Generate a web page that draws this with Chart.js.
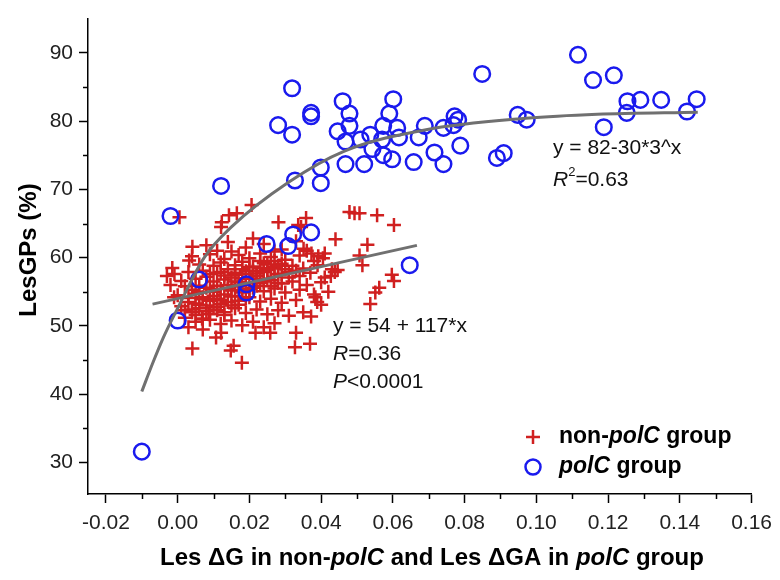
<!DOCTYPE html>
<html><head><meta charset="utf-8">
<script src="https://cdn.jsdelivr.net/npm/chart.js@4.4.0/dist/chart.umd.min.js"></script>
<style>html,body{margin:0;padding:0;background:#fff;}#wrap{width:780px;height:580px;}</style>
</head><body><div id="wrap"><canvas id="c" width="780" height="580"></canvas></div>
<script>
// ---- data ----
const xTicks = [-0.02, 0, 0.02, 0.04, 0.06, 0.08, 0.10, 0.12, 0.14, 0.16];
const xMinorTicks = [-0.01, 0.01, 0.03, 0.05, 0.07, 0.09, 0.11, 0.13, 0.15];
const yTicks = [30, 40, 50, 60, 70, 80, 90];
const yMinorTicks = [35, 45, 55, 65, 75, 85];

// non-polC group (Les ΔG, LesGPs %)
const nonPolC = [
  [0.0206,67.7],[0.0165,66.5],[0.0143,66.2],[0.0123,65.2],[0.0121,64.5],[0.0005,65.9],[0.0281,65.2],
  [0.0358,65.8],[0.0336,64.8],[0.0344,64.5],[0.0479,66.7],[0.0493,66.5],[0.0507,66.5],[0.0556,66.2],
  [0.0603,64.8],[0.0440,62.7],[0.0529,61.9],[0.0041,61.6],[-0.0015,58.5],[-0.0009,57.6],[0.0032,59.6],
  [0.0515,58.9],[0.0438,57.9],[0.0446,58.2],[0.0427,57.3],[0.0597,57.5],[0.0603,56.6],[0.0562,55.6],
  [0.0551,54.9],[0.0537,53.2],[0.0384,54.2],[0.0389,53.5],[0.0372,51.4],[0.0041,46.7],[0.0179,44.6],
  [0.0327,46.9],[0.0369,47.4],[0.0148,46.4],[0.0156,47.1],[0.0107,48.3],[0.0121,49.0],[0.0217,49.0],
  [0.0258,49.0],[0.0330,49.0],[0.0068,51.1],[0.0087,51.7],[0.0507,60.3],[0.0351,61.3],[0.0373,60.6],
  [0.0392,60.2],[0.0405,59.9],
  [0.008,61.8],[0.014,62.3],[0.019,61.5],[0.024,62.0],[0.029,61.2],[0.033,62.4],[0.036,61.0],[0.011,61.0],[0.021,62.8],[0.027,60.9],
  [0.004,60.2],[0.009,60.5],[0.013,59.8],[0.017,60.4],[0.020,59.9],[0.023,60.6],[0.026,60.1],[0.030,59.7],[0.034,60.3],[0.038,59.5],[0.041,60.6],[0.015,60.9],
  [0.006,59.0],[0.010,58.8],[0.012,59.3],[0.016,58.9],[0.018,59.4],[0.021,58.7],[0.024,59.2],[0.027,58.6],[0.029,59.1],[0.032,58.8],[0.035,58.4],[0.039,58.9],[0.043,58.3],
  [0.003,57.9],[0.007,58.1],[0.009,57.6],[0.012,57.9],[0.014,58.3],[0.016,57.5],[0.019,58.0],[0.022,57.7],[0.025,58.2],[0.028,57.6],[0.031,57.9],[0.034,57.3],[0.037,57.8],[0.041,57.1],
  [0.001,56.6],[0.005,56.9],[0.008,57.2],[0.010,56.5],[0.013,56.8],[0.015,57.1],[0.017,56.4],[0.020,56.9],[0.023,56.3],[0.026,56.7],[0.029,56.2],[0.032,56.5],[0.036,56.0],[0.040,56.4],
  [0.002,55.8],[0.004,55.3],[0.006,55.9],[0.009,55.4],[0.011,55.9],[0.014,55.5],[0.016,55.9],[0.018,55.2],[0.021,55.6],[0.024,55.1],[0.027,55.5],[0.030,54.9],[0.034,55.3],[0.038,54.6],[0.042,55.0],
  [0.000,54.5],[0.003,54.1],[0.005,54.7],[0.007,53.9],[0.010,54.4],[0.012,53.8],[0.015,54.3],[0.017,53.7],[0.020,54.2],[0.023,53.6],[0.026,54.0],[0.029,53.4],[0.033,53.8],[0.040,53.1],
  [0.001,52.9],[0.004,52.4],[0.006,53.1],[0.008,52.2],[0.011,52.8],[0.013,52.0],[0.016,52.6],[0.019,51.9],[0.022,52.4],[0.025,51.7],[0.028,52.3],[0.031,51.5],[0.035,52.0],
  [0.002,51.2],[0.005,50.6],[0.009,50.9],[0.012,50.3],[0.015,50.8],[0.018,50.1],[0.021,50.6],[0.024,49.8],[0.027,50.4],[0.003,49.8],[0.007,49.5],
  [-0.002,56.0],[-0.001,54.2],[-0.003,57.3],
  [0.004,52.0],[0.005,53.3],[0.006,52.6],[0.007,54.2],[0.008,53.0],[0.009,53.7],[0.010,52.7],[0.010,55.0],[0.011,54.0],[0.012,55.4],
  [0.012,53.2],[0.013,54.6],[0.014,56.0],[0.014,53.5],[0.015,55.2],[0.016,56.5],[0.016,54.4],[0.017,55.8],[0.018,57.0],[0.018,54.9],
  [0.019,56.3],[0.019,57.6],[0.020,55.4],[0.021,56.9],[0.021,58.1],[0.022,55.9],[0.022,57.3],[0.023,58.5],[0.024,56.5],[0.024,57.9],
  [0.025,59.0],[0.025,56.9],[0.026,58.4],[0.027,59.5],[0.027,57.2],[0.028,58.8],[0.029,57.6],[0.030,58.3],[0.006,55.0],[0.008,55.6],
  [0.009,51.8],[0.011,52.3],[0.013,51.6],[0.015,53.0],[0.017,53.1],[0.019,54.0],[0.020,58.6],[0.023,59.5],[0.018,58.3],[0.016,57.8],
  [0.013,57.4],[0.011,57.8],[0.026,55.8],[0.028,56.3],[0.031,57.1],[0.033,58.1],[0.003,53.5],[0.002,52.3],[0.005,51.6],[0.007,51.0]
];

// polC group (Les ΔGA, LesGPs %)
const polC = [
  [-0.010,31.6],[-0.002,66.1],[0.000,50.8],[0.006,56.8],[0.0121,70.5],[0.0192,56.1],[0.0192,54.9],
  [0.0248,62.0],[0.028,79.4],[0.0308,61.7],[0.0319,84.8],[0.0319,78.0],[0.0322,63.4],[0.0327,71.3],
  [0.0372,81.2],[0.0372,80.7],[0.0372,63.7],[0.0399,73.2],[0.0399,70.9],[0.0446,78.5],[0.046,82.9],
  [0.0468,77.0],[0.0468,73.7],[0.0479,81.1],[0.0479,79.3],[0.051,77.3],[0.052,73.7],[0.0537,78.0],
  [0.0543,75.9],[0.057,77.3],[0.0573,75.0],[0.0573,79.3],[0.059,81.1],[0.0598,74.4],[0.0601,83.2],
  [0.0612,79.0],[0.0617,77.6],[0.0647,58.9],[0.0658,74.0],[0.0672,77.6],[0.0689,79.3],[0.0716,75.4],
  [0.0741,79.0],[0.0741,73.7],[0.0769,79.4],[0.0772,80.7],[0.0782,80.2],[0.0788,76.4],[0.0849,86.9],
  [0.089,74.6],[0.0909,75.3],[0.0948,80.9],[0.0973,80.2],[0.1116,89.7],[0.1158,86.0],[0.1188,79.1],
  [0.1216,86.7],[0.1252,81.2],[0.1254,82.9],[0.129,83.1],[0.1348,83.1],[0.142,81.4],[0.1447,83.2]
];

// fitted curves
const expFit = [[-0.010,40.4],[-0.007,44.5],[-0.004,48.3],[0.000,52.6],[0.0074,60.0],[0.015,64.5],
  [0.0308,71.0],[0.0465,75.6],[0.0689,78.7],[0.097,80.4],[0.117,81.0],[0.145,81.3]];
const linFit = [[-0.007,53.2],[0.0667,61.8]];

const toPts = a => a.map(p => ({x: p[0], y: p[1]}));
const FONT = "'Liberation Sans', Arial, sans-serif";

function drawRich(ctx, x, y, parts, align) {
  let total = 0;
  parts.forEach(p => { ctx.font = p.font; p.w = ctx.measureText(p.t).width; total += p.w; });
  let cx = align === 'center' ? x - total / 2 : x;
  parts.forEach(p => {
    ctx.font = p.font;
    ctx.fillText(p.t, cx, y + (p.dy || 0));
    cx += p.w;
  });
}

const extras = {
  id: 'extras',
  afterDraw(chart) {
    const ctx = chart.ctx;
    const xs = chart.scales.x, ys = chart.scales.y;
    ctx.save();
    // minor ticks
    ctx.strokeStyle = '#000'; ctx.lineWidth = 1.5;
    const xb = xs.top;
    xMinorTicks.forEach(v => { const px = Math.round(xs.getPixelForValue(v)) + 0.5; ctx.beginPath(); ctx.moveTo(px, xb); ctx.lineTo(px, xb + 5); ctx.stroke(); });
    const yl = ys.right;
    yMinorTicks.forEach(v => { const py = Math.round(ys.getPixelForValue(v)) + 0.5; ctx.beginPath(); ctx.moveTo(yl, py); ctx.lineTo(yl - 5, py); ctx.stroke(); });

    ctx.fillStyle = '#000';
    ctx.textBaseline = 'middle';
    ctx.textAlign = 'left';
    // x axis title
    const B = 'bold 24px ' + FONT, BI = 'italic bold 24px ' + FONT;
    drawRich(ctx, 432, 558, [
      {t: 'Les \u0394G in non-', font: B}, {t: 'polC', font: BI}, {t: ' and Les \u0394GA in ', font: B},
      {t: 'polC', font: BI}, {t: ' group', font: B}], 'center');
    // y axis title
    ctx.save();
    ctx.translate(29, 250);
    ctx.rotate(-Math.PI / 2);
    ctx.textAlign = 'center';
    ctx.font = B;
    ctx.fillText('LesGPs (%)', 0, 0);
    ctx.restore();

    // annotations
    const N = '21px ' + FONT, I = 'italic 21px ' + FONT, S = '13px ' + FONT;
    ctx.fillStyle = '#111';
    drawRich(ctx, 553, 148, [{t: 'y = 82-30*3^x', font: N}]);
    drawRich(ctx, 553, 180, [{t: 'R', font: I}, {t: '2', font: S, dy: -8}, {t: '=0.63', font: N}]);
    drawRich(ctx, 333, 326, [{t: 'y = 54 + 117*x', font: N}]);
    drawRich(ctx, 333, 354, [{t: 'R', font: I}, {t: '=0.36', font: N}]);
    drawRich(ctx, 333, 382, [{t: 'P', font: I}, {t: '<0.0001', font: N}]);

    // legend
    ctx.strokeStyle = '#d02020'; ctx.lineWidth = 2.5;
    ctx.beginPath(); ctx.moveTo(533, 430); ctx.lineTo(533, 444); ctx.moveTo(526, 437); ctx.lineTo(540, 437); ctx.stroke();
    ctx.strokeStyle = '#1a1aee'; ctx.lineWidth = 2.5;
    ctx.beginPath(); ctx.arc(533, 467, 7.5, 0, Math.PI * 2); ctx.stroke();
    ctx.fillStyle = '#000';
    const LB = 'bold 23px ' + FONT, LBI = 'italic bold 23px ' + FONT;
    drawRich(ctx, 559, 437, [{t: 'non-', font: LB}, {t: 'polC', font: LBI}, {t: ' group', font: LB}]);
    drawRich(ctx, 559, 467, [{t: 'polC', font: LBI}, {t: ' group', font: LB}]);
    ctx.restore();
  }
};

new Chart(document.getElementById('c'), {
  type: 'scatter',
  data: {
    datasets: [
      {label: 'exp fit', data: toPts(expFit), showLine: true, borderColor: '#707070', borderWidth: 3,
       pointRadius: 0, cubicInterpolationMode: 'monotone', fill: false},
      {label: 'linear fit', data: toPts(linFit), showLine: true, borderColor: '#707070', borderWidth: 3,
       pointRadius: 0, fill: false},
      {label: 'polC group', data: toPts(polC), pointStyle: 'circle', pointRadius: 7.8,
       borderColor: '#1a1aee', backgroundColor: 'rgba(0,0,0,0)', borderWidth: 2.5},
      {label: 'non-polC group', data: toPts(nonPolC), pointStyle: 'cross', pointRadius: 7,
       borderColor: '#d02020', backgroundColor: '#d02020', borderWidth: 2.5}
    ]
  },
  options: {
    responsive: false, animation: false, devicePixelRatio: 1,
    layout: {padding: {top: 2, right: 20, left: 0, bottom: 0}},
    plugins: {legend: {display: false}, tooltip: {enabled: false}},
    scales: {
      x: {
        type: 'linear', min: -0.025, max: 0.16,
        afterFit: s => { s.height = 86; },
        afterBuildTicks: s => { s.ticks = xTicks.map(v => ({value: v})); },
        ticks: {callback: v => Number(v).toFixed(2), font: {family: FONT, size: 21}, color: '#222', padding: 8, maxRotation: 0, autoSkip: false},
        grid: {drawOnChartArea: false, drawTicks: true, tickLength: 9, tickColor: '#000', tickWidth: 1.5},
        border: {display: true, color: '#000', width: 1.5}
      },
      y: {
        type: 'linear', min: 25.4, max: 95,
        afterFit: s => { s.width = 88; },
        afterBuildTicks: s => { s.ticks = yTicks.map(v => ({value: v})); },
        ticks: {font: {family: FONT, size: 21}, color: '#222', padding: 6, autoSkip: false},
        grid: {drawOnChartArea: false, drawTicks: true, tickLength: 9, tickColor: '#000', tickWidth: 1.5},
        border: {display: true, color: '#000', width: 1.5}
      }
    }
  },
  plugins: [extras]
});
</script>
</body></html>
